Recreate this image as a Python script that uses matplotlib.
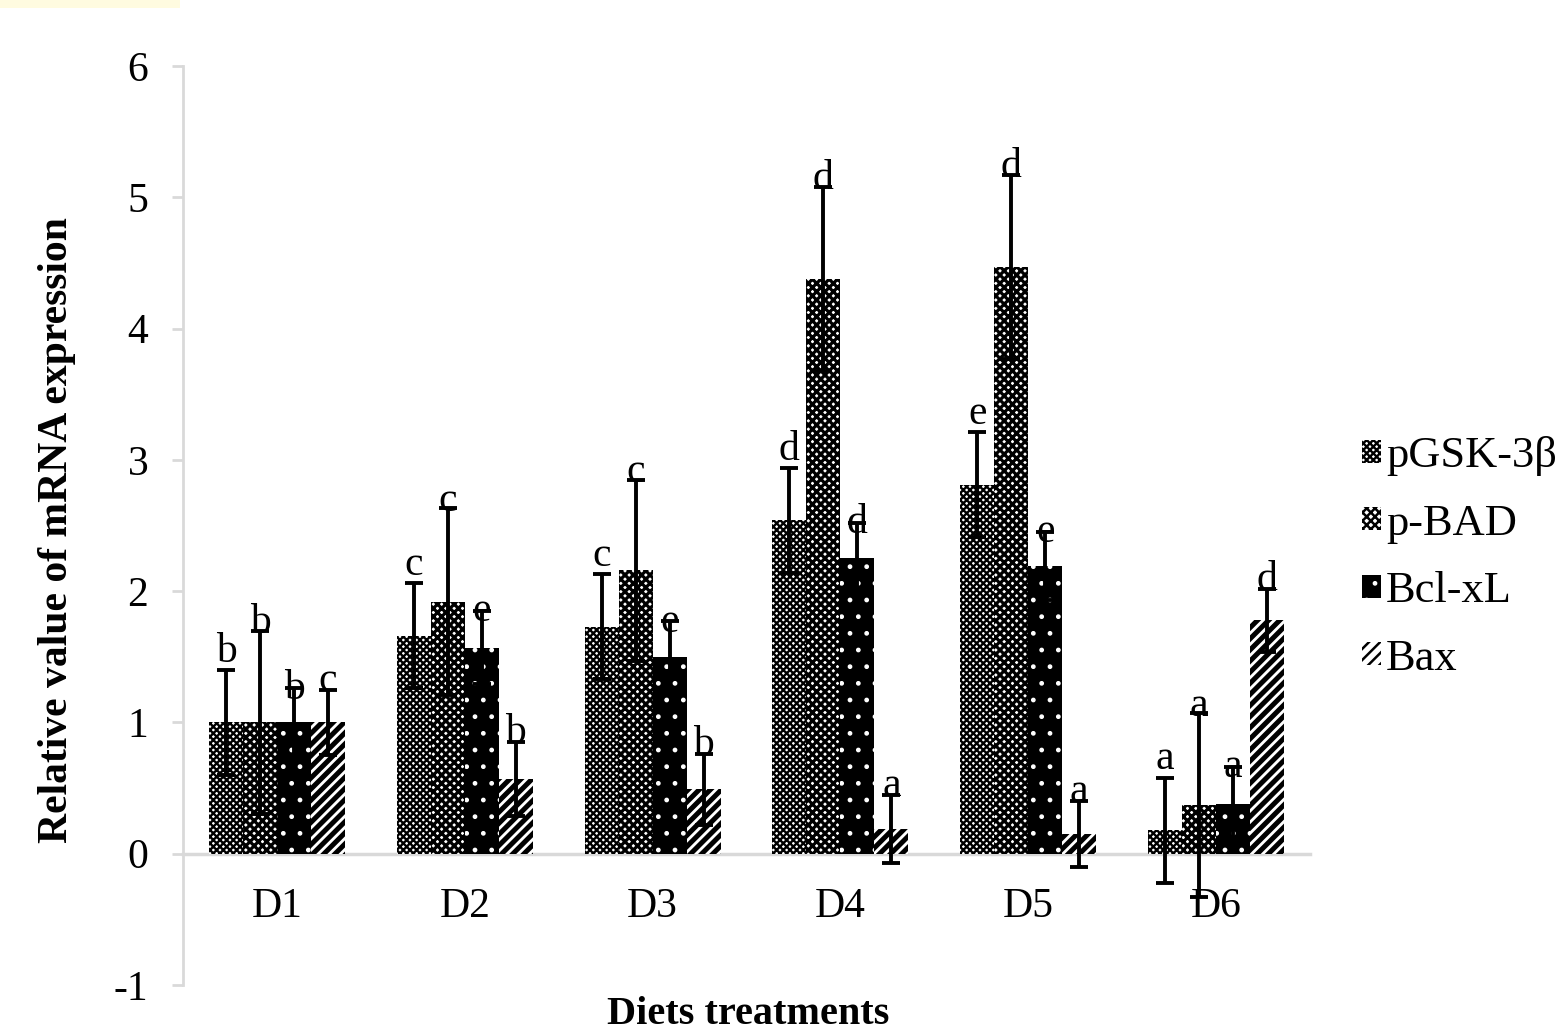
import matplotlib
matplotlib.use("Agg")
import matplotlib.pyplot as plt
import numpy as np
from matplotlib.patches import Patch, Rectangle

plt.rcParams['font.family'] = ['Liberation Serif', 'DejaVu Serif']
plt.rcParams['axes.unicode_minus'] = False

categories = ["D1", "D2", "D3", "D4", "D5", "D6"]
series = ["pGSK-3β", "p-BAD", "Bcl-xL", "Bax"]

pgsk = [1.00, 1.66, 1.73, 2.54, 2.81, 0.18]
pbad = [1.00, 1.92, 2.16, 4.38, 4.47, 0.37]
bclxl = [1.00, 1.57, 1.50, 2.25, 2.19, 0.38]
bax = [1.00, 0.57, 0.49, 0.19, 0.15, 1.78]

pgsk_err = [0.40, 0.40, 0.40, 0.40, 0.40, 0.40]
pbad_err = [0.70, 0.71, 0.69, 0.70, 0.70, 0.70]
bclxl_err = [0.26, 0.28, 0.27, 0.27, 0.26, 0.28]
bax_err = [0.25, 0.28, 0.27, 0.26, 0.25, 0.24]

pgsk_letters = ["b", "c", "c", "d", "e", "a"]
pbad_letters = ["b", "c", "c", "d", "d", "a"]
bclxl_letters = ["b", "e", "e", "d", "e", "a"]
bax_letters = ["c", "b", "b", "a", "a", "d"]

values = [pgsk, pbad, bclxl, bax]
errors = [pgsk_err, pbad_err, bclxl_err, bax_err]
letters = [pgsk_letters, pbad_letters, bclxl_letters, bax_letters]

styles = [
    dict(facecolor="white", edgecolor="black", hatch="xxxxx", hlw=1.7),
    dict(facecolor="white", edgecolor="black", hatch="xxxx", hlw=2.3),
    dict(facecolor="black", edgecolor="white", hatch=".", hlw=1.0),
    dict(facecolor="white", edgecolor="black", hatch="///", hlw=3.6),
]
label_offsets = [0.14, 0.06, 0.0, 0.07]

W, H = 1567, 1034
fig = plt.figure(figsize=(W / 100, H / 100), dpi=100)
fig.patches.append(Rectangle((0, 1 - 8 / H), 180 / W, 8 / H, transform=fig.transFigure,
                             facecolor="#fffbe0", edgecolor="none"))
ax = fig.add_axes([183 / W, 49 / H, (1310 - 183) / W, (985 - 66) / H])

x = np.arange(len(categories))
bw = 0.181
fs = 30

for i, (vals, errs, st) in enumerate(zip(values, errors, styles)):
    pos = x + (i - 1.5) * bw
    with plt.rc_context({'hatch.linewidth': st['hlw']}):
        bars = ax.bar(pos, vals, width=bw, facecolor=st['facecolor'], edgecolor=st['edgecolor'],
                      hatch=st['hatch'], linewidth=0, zorder=2)
        for b in bars:
            if hasattr(b, "set_hatch_linewidth"):
                b.set_hatch_linewidth(st['hlw'])
    ax.errorbar(pos, vals, yerr=errs, fmt="none", ecolor="black", elinewidth=2.8,
                capsize=6.5, capthick=2.8, zorder=3)
    for p, v, e, lt in zip(pos, vals, errs, letters[i]):
        ax.text(p, v + e + label_offsets[i], lt, ha="center", va="center", fontsize=fs, zorder=4)

ax.set_xlim(-0.5, 5.5)
ax.set_ylim(-1, 6)
ax.set_yticks(range(-1, 7))
ax.set_xticks(x)
ax.set_xticklabels(categories)

for s in ["top", "right"]:
    ax.spines[s].set_visible(False)
ax.spines["left"].set_color("#d9d9d9")
ax.spines["left"].set_linewidth(2)
ax.spines["bottom"].set_position(("data", 0))
ax.spines["bottom"].set_color("#d9d9d9")
ax.spines["bottom"].set_linewidth(2.5)
ax.spines["bottom"].set_zorder(1)
ax.tick_params(axis="y", length=8, width=2, color="#d9d9d9", labelsize=fs, pad=17)
ax.tick_params(axis="x", length=0, labelsize=fs, pad=24)

fig.text(57 / W, 1 - 530 / H, "Relative value of mRNA expression", rotation=90,
         ha="center", va="center", fontsize=30, fontweight="bold")
fig.text(748 / W, 1 / H, "Diets treatments", ha="center", va="bottom",
         fontsize=29, fontweight="bold")

handles = []
for st, name in zip(styles, series):
    h = Patch(facecolor=st['facecolor'], edgecolor=st['edgecolor'], hatch=st['hatch'],
              linewidth=0, label=name)
    handles.append(h)
leg = fig.legend(handles=handles, loc="upper left", bbox_to_anchor=(1362 / W, 1 - 436 / H),
                 frameon=False, fontsize=32, handlelength=0.42, handleheight=0.42,
                 handletextpad=0.12, labelspacing=0.62, borderpad=0, borderaxespad=0)
for h, st in zip(leg.legend_handles, styles):
    if hasattr(h, "set_hatch_linewidth"):
        h.set_hatch_linewidth(min(st['hlw'], 1.8))

fig.savefig("out.png", dpi=100)
